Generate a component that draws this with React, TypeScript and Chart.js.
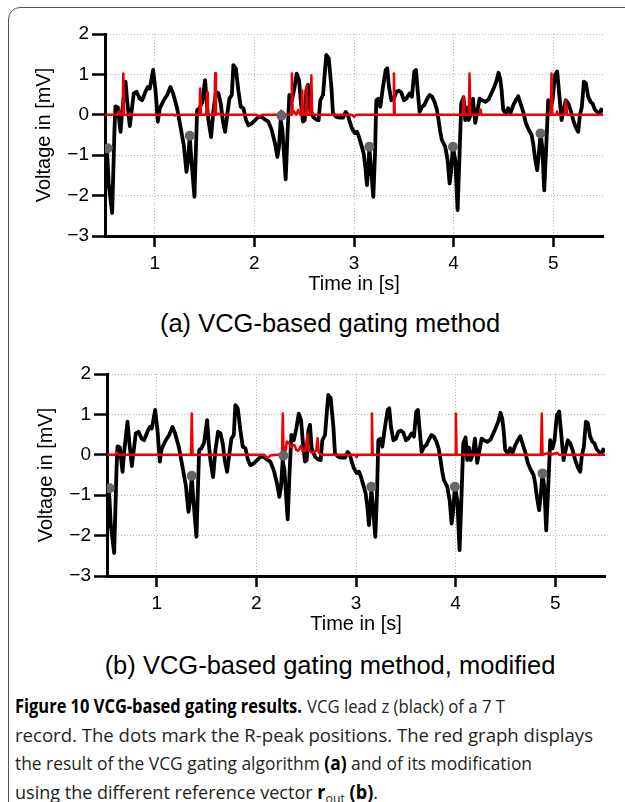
import React, { useEffect, useLayoutEffect, useRef, useState } from 'react';
import { Chart, registerables } from 'chart.js';

Chart.register(...registerables);

// ---- data ----
const ecgTime = [
  0.505, 0.522, 0.538, 0.572, 0.595, 0.605, 0.629, 0.656, 0.672, 0.706, 0.722, 0.749, 0.789, 0.816, 0.849, 0.873,
  0.906, 0.93, 0.95, 0.983, 1.007, 1.03, 1.05, 1.09, 1.124, 1.157, 1.184, 1.224, 1.258, 1.291, 1.318, 1.334,
  1.351, 1.365, 1.398, 1.425, 1.448, 1.475, 1.505, 1.522, 1.538, 1.565, 1.589, 1.615, 1.639, 1.662, 1.682, 1.706,
  1.729, 1.749, 1.773, 1.789, 1.813, 1.839, 1.863, 1.89, 1.916, 1.94, 1.973, 2.007, 2.04, 2.074, 2.107, 2.14,
  2.174, 2.207, 2.231, 2.247, 2.264, 2.281, 2.314, 2.334, 2.351, 2.375, 2.401, 2.425, 2.448, 2.468, 2.488, 2.505,
  2.522, 2.538, 2.555, 2.589, 2.622, 2.645, 2.662, 2.689, 2.706, 2.722, 2.746, 2.773, 2.789, 2.823, 2.856, 2.89,
  2.916, 2.94, 2.957, 2.98, 3.007, 3.03, 3.05, 3.074, 3.097, 3.114, 3.13, 3.144, 3.154, 3.171, 3.194, 3.211,
  3.224, 3.244, 3.264, 3.291, 3.318, 3.334, 3.351, 3.375, 3.401, 3.425, 3.452, 3.475, 3.502, 3.525, 3.559, 3.582,
  3.605, 3.622, 3.639, 3.659, 3.682, 3.706, 3.732, 3.759, 3.783, 3.809, 3.833, 3.849, 3.866, 3.883, 3.916, 3.94,
  3.96, 3.973, 3.993, 4.017, 4.04, 4.06, 4.077, 4.1, 4.117, 4.134, 4.151, 4.174, 4.194, 4.217, 4.234, 4.261,
  4.284, 4.318, 4.351, 4.375, 4.401, 4.428, 4.451, 4.468, 4.482, 4.498, 4.525, 4.548, 4.572, 4.599, 4.625, 4.649,
  4.672, 4.699, 4.726, 4.749, 4.783, 4.799, 4.816, 4.839, 4.856, 4.873, 4.89, 4.91, 4.93, 4.95, 4.973, 4.993,
  5.017, 5.04, 5.06, 5.084, 5.1, 5.127, 5.151, 5.174, 5.201, 5.227, 5.251, 5.268, 5.288, 5.308, 5.328, 5.351,
  5.375, 5.395, 5.418, 5.441, 5.462, 5.482, 5.502,
];
const ecgVoltage = [
  -1.79, -0.96, -1.74, -2.43, -0.38, 0.21, 0.18, -0.42, 0.07, 0.82, 0.36, -0.28, 0.53, 0.57, 0.4, 0.36,
  0.57, 0.69, 0.65, 1.11, 0.61, -0.17, 0.16, 0.36, 0.49, 0.69, 0.53, 0.16, -0.3, -0.75, -1.41, -1.12,
  -0.52, -1.04, -2.03, 0.12, 0.16, 0.3, 0.86, 0.28, -0.13, -0.55, 0.12, 0.57, 0.53, 0.28, -0.13, -0.42,
  0.03, 0.4, 0.49, 1.23, 1.15, 0.61, 0.2, 0.16, -0.13, -0.26, -0.21, -0.13, -0.05, -0.05, -0.12, -0.17,
  -0.38, -0.71, -1.04, -0.79, -0.13, -0.38, -1.6, -0.38, 0.49, 0.36, 0.65, 1.02, 0.86, 0.28, -0.17, -0.13,
  0.61, 0.74, 0.16, -0.05, -0.12, -0.13, 0.36, 0.49, 1.02, 1.48, 1.4, 0.69, 0.03, -0.05, -0.07, -0.07,
  0.07, -0.01, -0.17, -0.34, -0.45, -0.42, -0.55, -0.75, -0.96, -1.29, -1.74, -1.29, -0.83, -1.33, -2.03, -0.96,
  0.36, 0.4, 0.2, 0.69, 1.11, 1.15, 0.69, 0.36, 0.4, 0.57, 0.6, 0.55, 0.36, 0.4, 0.53, 0.45,
  1.07, 1.11, 0.61, 0.07, 0.2, 0.24, 0.38, 0.49, 0.45, 0.32, 0.12, -0.13, -0.42, -0.63, -0.79, -1.12,
  -1.7, -1.45, -0.79, -1.12, -2.36, -0.96, 0.28, 0.43, -0.13, 0.18, -0.13, 0.03, 0.4, -0.2, 0.03, 0.4,
  0.36, 0.32, 0.38, 0.51, 0.65, 0.82, 1.04, 0.9, 0.61, 0.12, 0.03, 0.16, 0.05, 0.24, 0.36, 0.46,
  0.28, 0.07, -0.21, -0.34, -0.5, -0.71, -1.04, -1.37, -0.96, -0.46, -0.79, -1.87, -0.79, 0.36, 0.16, 0.36,
  0.98, 1.07, 0.53, -0.13, 0.07, 0.36, 0.28, 0.12, -0.13, -0.31, -0.42, -0.01, 0.2, 0.82, 0.78, 0.45,
  0.32, 0.28, 0.13, 0.07, 0.02, 0.13, 0.1,
];

const peakTime = [0.528, 1.351, 2.271, 3.154, 3.993, 4.873];
const peakVoltage = [-0.83, -0.52, -0.02, -0.79, -0.79, -0.46];

const gateATime = [
  0.5, 0.62, 0.64, 0.655, 0.676, 0.684, 0.692, 0.74, 0.75, 0.76, 1.19, 1.2, 1.21, 1.448, 1.456, 1.464,
  1.517, 1.525, 1.533, 1.598, 1.606, 1.614, 1.64, 1.66, 2.02, 2.05, 2.08, 2.26, 2.27, 2.28, 2.368, 2.376,
  2.384, 2.4, 2.42, 2.44, 2.46, 2.472, 2.48, 2.488, 2.518, 2.526, 2.534, 2.563, 2.572, 2.58, 2.6, 2.98,
  3.0, 3.02, 3.393, 3.401, 3.409, 4.09, 4.1, 4.11, 4.152, 4.16, 4.168, 4.26, 4.27, 4.28, 4.975, 4.983,
  4.991, 5.03, 5.04, 5.05, 5.115, 5.127, 5.14, 5.5,
];
const gateAValue = [
  0, 0, 0.08, 0, 0, 1.02, 0, 0, 0.03, 0, 0, -0.02, 0, 0, 0.65, 0,
  0, 0.55, 0, 0, 1.03, 0, 0.03, 0, 0, -0.04, 0, 0, 0.1, 0, 0, 1.02,
  0.05, 0.08, 0, 0.12, 0, 0, 0.6, 0, 0, 0.72, 0, 0, 0.98, 0.05, 0, 0,
  -0.05, 0, 0, 1.02, 0, 0, 0.46, 0, 0, 1.02, 0, 0, 0.13, 0, 0, 1.02,
  0, 0, 0.08, 0, 0, 0.36, 0, 0,
];

const gateBTime = [
  0.5, 0.58, 0.6, 0.62, 1.343, 1.351, 1.359, 2.08, 2.11, 2.14, 2.2, 2.257, 2.265, 2.273, 2.29, 2.305,
  2.33, 2.35, 2.38, 2.4, 2.42, 2.447, 2.465, 2.49, 2.514, 2.525, 2.56, 2.6, 2.615, 2.625, 2.66, 2.99,
  3.0, 3.01, 3.152, 3.16, 3.168, 3.994, 4.002, 4.01, 4.857, 4.865, 4.873, 4.94, 4.96, 5.02, 5.04, 5.5,
];
const gateBValue = [
  0, 0, 0.06, 0, 0, 1.02, 0, 0, -0.08, -0.02, 0, 0, 1.02, 0, 0.05, 0.33,
  0.28, 0.2, 0.25, 0.12, 0.1, 0.22, 0.08, 0.1, 0.5, 0.1, 0.05, 0.1, 0.41, 0.05, 0, 0,
  -0.05, 0, 0, 1.02, 0, 0, 1.02, 0, 0, 1.02, 0, 0.05, 0, 0.05, 0, 0,
];

const xTicks = [1, 2, 3, 4, 5];
const yTicks = [-3, -2, -1, 0, 1, 2];

// ---- helpers ----
const toPoints = (ts: number[], vs: number[]) => ts.map((x, i) => ({ x, y: vs[i] }));
const FONT = "'Liberation Sans', Arial, Helvetica, sans-serif";

function makeConfig(gateT: number[], gateV: number[]): any {
  return {
    type: 'scatter',
    data: {
      datasets: [
        {
          data: toPoints(peakTime, peakVoltage),
          pointRadius: 5,
          pointBackgroundColor: '#666666',
          pointBorderColor: '#666666',
          pointBorderWidth: 0,
          showLine: false,
          order: 0,
        },
        {
          data: toPoints(gateT, gateV),
          showLine: true,
          borderColor: '#ee0000',
          borderWidth: 2.5,
          pointRadius: 0,
          tension: 0,
          borderJoinStyle: 'round',
          borderCapStyle: 'round',
          order: 1,
        },
        {
          data: toPoints(ecgTime, ecgVoltage),
          showLine: true,
          borderColor: '#000000',
          borderWidth: 3.8,
          pointRadius: 0,
          tension: 0,
          borderJoinStyle: 'round',
          borderCapStyle: 'round',
          order: 2,
        },
      ],
    },
    options: {
      responsive: false,
      animation: false,
      events: [],
      layout: { padding: { left: 0, right: 22, top: 34, bottom: 4 } },
      plugins: { legend: { display: false }, tooltip: { enabled: false } },
      scales: {
        x: {
          type: 'linear',
          min: 0.5,
          max: 5.5,
          afterBuildTicks: (s: any) => {
            s.ticks = xTicks.map((v) => ({ value: v }));
          },
          afterFit: (s: any) => {
            s.height = 60;
          },
          grid: {
            color: '#b4b4b4',
            lineWidth: 1,
            borderDash: [1, 2],
            tickColor: '#000',
            tickWidth: 2.5,
            tickLength: 11,
          },
          border: { display: true, color: '#000', width: 3, dash: [1, 2] },
          ticks: {
            color: '#000',
            font: { family: FONT, size: 19 },
            padding: 5,
            maxRotation: 0,
            autoSkip: false,
            callback: (v: number) => String(v),
          },
          title: {
            display: true,
            text: 'Time in [s]',
            color: '#000',
            font: { family: FONT, size: 20 },
            padding: { top: 0, bottom: 0 },
          },
        },
        y: {
          type: 'linear',
          min: -3,
          max: 2,
          afterBuildTicks: (s: any) => {
            s.ticks = yTicks.map((v) => ({ value: v }));
          },
          afterFit: (s: any) => {
            s.width = 105;
          },
          grid: {
            color: '#b4b4b4',
            lineWidth: 1,
            borderDash: [1, 2],
            tickColor: '#000',
            tickWidth: 2.5,
            tickLength: 13,
          },
          border: { display: true, color: '#000', width: 3, dash: [1, 2] },
          ticks: {
            color: '#000',
            font: { family: FONT, size: 19 },
            padding: 3,
            autoSkip: false,
            callback: (v: number) => (v < 0 ? '\u2212' + Math.abs(v) : String(v)),
          },
          title: {
            display: true,
            text: 'Voltage in [mV]',
            color: '#000',
            font: { family: FONT, size: 20 },
            padding: { top: 32, bottom: 0 },
          },
        },
      },
    },
  };
}

function Panel({ gateT, gateV, left, top }: { gateT: number[]; gateV: number[]; left: number; top: number }) {
  const ref = useRef<HTMLCanvasElement>(null);
  useEffect(() => {
    if (!ref.current) return;
    const chart = new Chart(ref.current, makeConfig(gateT, gateV));
    return () => chart.destroy();
  }, [gateT, gateV]);
  return (
    <canvas
      ref={ref}
      width={625}
      height={300}
      style={{ position: 'absolute', left, top, width: 625, height: 300, display: 'block' }}
    />
  );
}

const subStyle: React.CSSProperties = {
  position: 'absolute',
  left: 0,
  width: 660,
  textAlign: 'center',
  fontFamily: FONT,
  fontSize: 25.5,
  lineHeight: '30px',
  color: '#000',
  whiteSpace: 'nowrap',
};

const B = ({ children }: { children: React.ReactNode }) => <b style={{ color: '#000' }}>{children}</b>;

// caption pieces: line index, left edge, target width (px)
const captionPieces: { line: number; left: number; width: number; content: React.ReactNode }[] = [
  { line: 0, left: 15, width: 287, content: <B>Figure 10 VCG-based gating results.</B> },
  { line: 0, left: 307, width: 198, content: 'VCG lead z (black) of a 7 T' },
  { line: 1, left: 15, width: 578, content: 'record. The dots mark the R-peak positions. The red graph displays' },
  {
    line: 2,
    left: 15,
    width: 517,
    content: (
      <>
        the result of the VCG gating algorithm <B>(a)</B> and of its modification
      </>
    ),
  },
  {
    line: 3,
    left: 15,
    width: 363,
    content: (
      <>
        using the different reference vector <B>r</B>
        <span style={{ fontSize: 13, position: 'relative', top: 4 }}>out</span> <B>(b)</B>.
      </>
    ),
  },
];

function CaptionPiece({ line, left, width, content }: { line: number; left: number; width: number; content: React.ReactNode }) {
  const ref = useRef<HTMLSpanElement>(null);
  const [k, setK] = useState(1);
  useLayoutEffect(() => {
    if (ref.current) {
      const w = ref.current.getBoundingClientRect().width;
      if (w > 0) setK(width / w);
    }
  }, [width]);
  return (
    <span
      ref={ref}
      style={{
        position: 'absolute',
        left,
        top: 692 + line * 28.7,
        lineHeight: '29px',
        whiteSpace: 'nowrap',
        transform: `scaleX(${k})`,
        transformOrigin: 'left center',
        display: 'inline-block',
      }}
    >
      {content}
    </span>
  );
}

export default function App() {
  return (
    <div
      style={{
        position: 'fixed',
        left: 0,
        top: 0,
        width: 625,
        height: 802,
        overflow: 'hidden',
        background: '#fff',
      }}
    >
      <div
        style={{
          position: 'absolute',
          left: 8,
          top: 7,
          width: 760,
          height: 900,
          border: '1.5px solid #555',
          borderRadius: 12,
          boxSizing: 'border-box',
        }}
      />
      <Panel gateT={gateATime} gateV={gateAValue} left={0} top={0} />
      <div style={{ ...subStyle, top: 308 }}>(a) VCG-based gating method</div>
      <Panel gateT={gateBTime} gateV={gateBValue} left={2} top={340} />
      <div style={{ ...subStyle, top: 650 }}>(b) VCG-based gating method, modified</div>
      <div style={{ fontFamily: "'Open Sans', sans-serif", fontSize: 19, color: '#231f20' }}>
        {captionPieces.map((p, i) => (
          <CaptionPiece key={i} {...p} />
        ))}
      </div>
    </div>
  );
}
